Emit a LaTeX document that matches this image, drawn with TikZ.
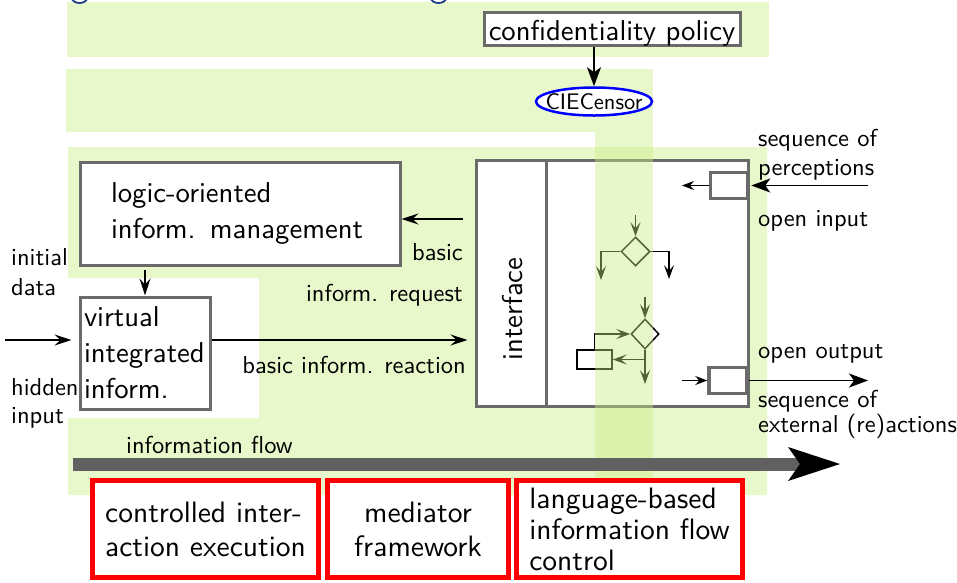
\documentclass[tikz,border=0pt]{standalone}
\usepackage{fontspec}
\setsansfont{lmsans10-regular.otf}
\usetikzlibrary{arrows.meta,shapes.geometric}
\definecolor{bandgreen}{RGB}{233,248,203}
\definecolor{bandtint}{RGB}{202,238,131}
\definecolor{boxgray}{RGB}{106,106,106}
\definecolor{flowgray}{RGB}{96,96,96}
\definecolor{titleblue}{RGB}{30,60,140}
\begin{document}
\begin{tikzpicture}[x=1pt,y=-1pt,
  bigfont/.style={font=\sffamily\fontsize{28.7}{36}\selectfont},
  boxfont/.style={font=\sffamily\fontsize{29.5}{#1}\selectfont},
  labfont/.style={font=\sffamily\fontsize{24.5}{29}\selectfont},
  graybox/.style={draw=boxgray,line width=3pt,fill=white,inner sep=0pt},
  smallbox/.style={draw=boxgray,line width=3.5pt,fill=white,inner sep=0pt},
  redbox/.style={draw=red,line width=5pt,fill=white,inner sep=0pt},
  lab/.style={labfont,inner sep=0pt},
  conn/.style={draw=black,line width=1.6pt,-{Stealth[length=17pt,width=11pt,inset=6pt]}},
  bigconn/.style={draw=black,line width=1.6pt,-{Stealth[length=19pt,width=14pt,inset=5pt]}},
  smallconn/.style={draw=black,line width=1.5pt,-{Stealth[length=12pt,width=9pt,inset=4pt]}},
  flowconn/.style={draw=black,line width=1.5pt,-{Stealth[length=14pt,width=10pt,inset=6pt]}},
  flowshape/.style={draw=black,line width=1.5pt,fill=white,inner sep=0pt},
]
\useasboundingbox (0,0) rectangle (957,582);

% background bands
\fill[bandgreen] (67,2) rectangle (769,57);
\fill[bandgreen] (66,69) rectangle (653,132);
\fill[bandgreen] (68,147) -- (767,147) -- (767,495) -- (68,495) -- (68,418)
  -- (259,418) -- (259,278) -- (68,278) -- cycle;

% descenders of the heading above
\draw[titleblue,line width=1.8pt] (71,-3) .. controls (73,5) and (86,5) .. (88,-3);
\draw[titleblue,line width=1.8pt] (430,-3) .. controls (432,5) and (445,5) .. (447,-3);

% policy and censor
\node[graybox,bigfont,minimum width=256pt,minimum height=33pt,text height=28pt,text depth=5pt]
  (policy) at (612,28.5) {confidentiality policy};
\node[ellipse,draw=blue,line width=2.5pt,fill=white,minimum width=116pt,minimum height=28pt,
  inner sep=0pt,font=\sffamily\fontsize{22.5}{27}\selectfont] (censor) at (594,101.5)
  {\makebox[0pt]{CIECensor}};
\draw[bigconn] (censor.north |- policy.south) -- (censor.north);

% information management
\node[graybox,bigfont,minimum width=320pt,minimum height=103pt,align=left,text width=258pt]
  (logic) at (240,213.5) {logic-oriented\\inform. management};
\node[graybox,bigfont,minimum width=130pt,minimum height=112pt,align=left,text width=122pt]
  (virtual) at (145,353) {virtual\\integrated\\inform.};

% interaction engine
\node[graybox,minimum width=272pt,minimum height=246pt] (engine) at (612,283) {};
\node[graybox,minimum width=70pt,minimum height=246pt] (interface) at (511,283) {};
\node[bigfont,rotate=90,inner sep=0pt] (ifacelabel) at (513,309) {interface};
\node[smallbox,minimum width=37pt,minimum height=26pt] (inbox) at (729,185.5) {};
\node[smallbox,minimum width=38pt,minimum height=26pt] (outbox) at (728,380.5) {};

% program flowchart
\node[diamond,flowshape,minimum width=29pt,minimum height=29pt] (d1) at (635.5,251.5) {};
\coordinate (d1in) at (635.5,215);
\coordinate (d1left) at (601,280);
\coordinate (d1right) at (669,279);
\draw[flowconn] (d1in) -- (d1.north);
\draw[flowconn] (d1.west) -| (d1left);
\draw[flowconn] (d1.east) -| (d1right);
\node[diamond,flowshape,minimum width=28pt,minimum height=30pt] (d2) at (645,334) {};
\node[flowshape,minimum width=35pt,minimum height=19pt] (store) at (594.5,359.5) {};
\coordinate (d2in) at (645,297);
\coordinate (d2out) at (645,384);
\draw[flowconn] (d2in) -- (d2.north);
\draw[flowconn] (d2.south) -- (d2out);
\draw[flowconn] (store.north) |- (d2.west);
\draw[flowconn] (d2.south |- store.east) -- (store.east);

% translucent column
\fill[bandtint,fill opacity=0.42] (595,132) rectangle (653,495);

% connectors
\coordinate (request) at (463,219);
\draw[conn] (request) -- (request -| logic.east);
\draw[conn,shorten <=3pt] (virtual.north |- logic.south) -- (virtual.north);
\coordinate (hiddenin) at (5,340);
\draw[conn,shorten >=7pt] (hiddenin) -- (virtual.west |- hiddenin);
\draw[conn,shorten >=7pt] (virtual.east |- hiddenin) -- (interface.west |- hiddenin);
\coordinate (perc) at (868,185.5);
\coordinate (percin) at (682,185.5);
\draw[bigconn,shorten >=2pt] (perc) -- (inbox.east);
\draw[smallconn] (inbox.west) -- (percin);
\coordinate (actin) at (682,380.5);
\coordinate (actout) at (868,380.5);
\draw[smallconn] (actin) -- (outbox.west);
\draw[bigconn] (outbox.east) -- (actout);

% labels
\node[lab,anchor=base west] (initial) at (11,265) {initial};
\node[lab,anchor=base west] (data) at (11,295) {data};
\node[lab,anchor=base west] (hidden) at (11,395) {hidden};
\node[lab,anchor=base west] (hinput) at (11,423) {input};
\node[lab,anchor=base east] (basic) at (463,260) {basic};
\node[lab,anchor=base east] (reqlabel) at (463,301) {inform. request};
\node[lab,anchor=base east] (reaction) at (466,373) {basic inform. reaction};
\node[lab,anchor=base west] (flowlabel) at (126,453) {information flow};
\node[lab,anchor=base west] (seqin) at (758,146) {sequence of};
\node[lab,anchor=base west] (percep) at (758,175) {perceptions};
\node[lab,anchor=base west] (openin) at (758,226) {open input};
\node[lab,anchor=base west] (openout) at (758,358) {open output};
\node[lab,anchor=base west] (seqout) at (758,407) {sequence of};
\node[lab,anchor=base west] (extern) at (758,432) {external (re)actions};

% information flow arrow
\coordinate (flowstart) at (73,464);
\coordinate (flowend) at (840,464);
\draw[flowgray,line width=13pt,
  -{Stealth[length=52pt,width=34pt,inset=12pt,line width=0pt,color=black]}]
  (flowstart) -- (flowend);

% techniques
\node[redbox,boxfont=34pt,minimum width=226pt,minimum height=97pt,align=left]
  (cie) at (205.5,529) {controlled inter-\\action execution};
\node[redbox,boxfont=34pt,minimum width=181pt,minimum height=97pt,align=center]
  (mediator) at (418,529) {mediator\\framework};
\node[redbox,boxfont=31pt,minimum width=226pt,minimum height=97pt,align=left]
  (ifc) at (629.5,529) {language-based\\information flow\\control};
\end{tikzpicture}
\end{document}
